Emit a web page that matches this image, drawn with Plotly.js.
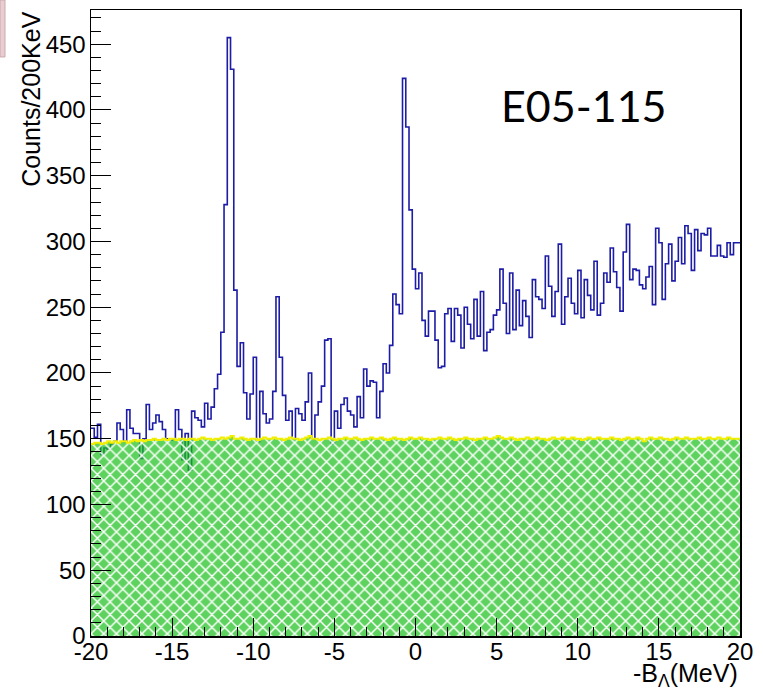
<!DOCTYPE html>
<html>
<head>
<meta charset="utf-8">
<script src="https://cdn.plot.ly/plotly-3.0.1.min.js"></script>
<style>
  html, body { margin: 0; padding: 0; background: #fff; }
  #chart { width: 763px; height: 693px; }
</style>
</head>
<body>
<div id="chart"></div>
<script>
// Binning of the missing-mass spectrum: -20 .. 20 MeV in 200 keV bins
const xMin = -20;
const xMax = 20;
const binWidth = 0.2;

// Counts per 200 keV bin (200 bins, from -20 MeV upward)
const counts = [
  158, 151, 161, 138, 143, 142, 146, 148, 162, 157,
  148, 172, 158, 154, 154, 135, 150, 176, 157, 162,
  168, 163, 157, 150, 149, 150, 172, 157, 134, 154,
  126, 171, 166, 164, 159, 177, 165, 174, 188, 199,
  231, 328, 455, 431, 263, 205, 223, 185, 165, 184,
  212, 148, 186, 169, 162, 165, 186, 258, 212, 183,
  164, 171, 150, 173, 169, 164, 178, 200, 150, 168,
  178, 190, 225, 226, 146, 171, 158, 176, 181, 171,
  168, 159, 182, 166, 203, 190, 194, 193, 166, 186,
  207, 200, 221, 260, 252, 245, 424, 387, 324, 279,
  264, 276, 240, 228, 247, 247, 225, 204, 205, 245,
  249, 224, 249, 244, 219, 250, 237, 226, 256, 228,
  262, 217, 231, 233, 244, 248, 279, 253, 230, 276,
  233, 263, 236, 255, 243, 227, 271, 258, 256, 249,
  289, 266, 243, 262, 298, 237, 258, 272, 253, 245,
  278, 242, 271, 259, 248, 285, 244, 253, 276, 269,
  295, 277, 265, 247, 292, 313, 271, 279, 278, 267,
  264, 273, 281, 252, 310, 299, 256, 283, 298, 270,
  285, 303, 283, 312, 306, 278, 309, 293, 306, 305,
  310, 289, 289, 297, 289, 288, 299, 290, 299, 299
];

// Accidental background estimate per bin
const background = [
  146, 147, 147, 146, 147, 148, 147, 148, 147, 148,
  148, 147, 148, 149, 148, 149, 148, 149, 149, 150,
  149, 149, 150, 149, 150, 150, 149, 150, 150, 149,
  150, 150, 149, 150, 151, 150, 150, 149, 150, 150,
  151, 150, 151, 152, 150, 150, 151, 150, 149, 150,
  150, 149, 150, 151, 150, 150, 151, 150, 150, 149,
  150, 151, 150, 150, 149, 150, 151, 152, 150, 150,
  149, 150, 150, 151, 150, 149, 150, 150, 151, 150,
  150, 151, 150, 149, 150, 150, 151, 150, 150, 151,
  150, 149, 150, 151, 150, 150, 149, 150, 151, 150,
  150, 151, 150, 150, 149, 150, 150, 151, 150, 150,
  151, 150, 149, 150, 150, 151, 150, 150, 149, 150,
  150, 151, 150, 150, 151, 152, 151, 150, 150, 151,
  150, 149, 150, 150, 151, 150, 150, 151, 150, 150,
  149, 150, 151, 150, 150, 151, 150, 150, 151, 150,
  150, 149, 150, 151, 150, 150, 151, 150, 150, 150,
  151, 150, 150, 149, 150, 151, 150, 150, 151, 150,
  148, 150, 151, 150, 150, 151, 150, 150, 149, 150,
  151, 150, 150, 151, 150, 150, 150, 151, 150, 150,
  151, 150, 150, 151, 150, 150, 151, 150, 150, 150
];

// Axis tick values
const xTicks = [-20, -15, -10, -5, 0, 5, 10, 15, 20];
const yTicks = [0, 50, 100, 150, 200, 250, 300, 350, 400, 450];

// Left bin edges plus the closing edge, for step drawing
function stepX(n) {
  const xs = [];
  for (let i = 0; i <= n; i++) xs.push(+(xMin + i * binWidth).toFixed(4));
  return xs;
}
function stepY(vals) {
  return vals.concat([vals[vals.length - 1]]);
}

const edges = stepX(counts.length);

const dataTrace = {
  type: 'scatter',
  mode: 'lines',
  x: edges,
  y: stepY(counts),
  line: { shape: 'hv', color: '#1c1ca6', width: 1.6 },
  hoverinfo: 'skip',
  showlegend: false
};

const bgTrace = {
  type: 'scatter',
  mode: 'lines',
  x: edges,
  y: stepY(background),
  fill: 'tozeroy',
  fillcolor: 'rgba(26,192,26,0.7)',
  fillpattern: {
    shape: 'x',
    fgcolor: '#ffffff',
    fgopacity: 1,
    bgcolor: 'rgba(26,192,26,0.7)',
    size: 9,
    solidity: 0.3
  },
  line: { shape: 'hv', color: '#f2ee00', width: 2 },
  hoverinfo: 'skip',
  showlegend: false
};

const tickFont = { family: 'Liberation Sans, Arial, sans-serif', size: 24, color: '#000' };

const layout = {
  width: 763,
  height: 693,
  margin: { l: 91, r: 23, t: 10, b: 57 },
  paper_bgcolor: '#ffffff',
  plot_bgcolor: '#ffffff',
  showlegend: false,
  xaxis: {
    range: [xMin, xMax],
    tickmode: 'array',
    tickvals: xTicks,
    ticktext: xTicks.map(String),
    ticks: 'inside',
    ticklen: 18,
    tickwidth: 1,
    tickcolor: '#000',
    ticklabelstandoff: -6,
    minor: { dtick: 1, ticks: 'inside', ticklen: 9, tickwidth: 1, tickcolor: '#000' },
    showline: true,
    linecolor: '#000',
    linewidth: 1.5,
    mirror: true,
    showgrid: false,
    zeroline: false,
    tickfont: tickFont,
    fixedrange: true
  },
  yaxis: {
    range: [0, 476],
    tickmode: 'array',
    tickvals: yTicks,
    ticktext: yTicks.map(String),
    ticks: 'inside',
    ticklen: 20,
    tickwidth: 1,
    tickcolor: '#000',
    ticklabelstandoff: -1,
    minor: { dtick: 10, ticks: 'inside', ticklen: 10, tickwidth: 1, tickcolor: '#000' },
    showline: true,
    linecolor: '#000',
    linewidth: 1.5,
    mirror: true,
    showgrid: false,
    zeroline: false,
    tickfont: tickFont,
    fixedrange: true
  },
  annotations: [
    {
      text: 'E05-115',
      xref: 'paper', yref: 'paper',
      x: 0.76, y: 0.847,
      xanchor: 'center', yanchor: 'middle',
      showarrow: false,
      font: { family: 'Lato, Noto Sans, sans-serif', size: 43, color: '#000' }
    },
    {
      text: 'Counts/200KeV',
      xref: 'paper', yref: 'paper',
      x: -0.0935, y: 1.0,
      xanchor: 'center', yanchor: 'top',
      textangle: -90,
      showarrow: false,
      font: { family: 'Liberation Sans, Arial, sans-serif', size: 25, color: '#000' }
    },
    {
      text: '-B<sub>Λ</sub>(MeV)',
      xref: 'paper', yref: 'paper',
      x: 1.0, y: -0.034,
      xanchor: 'right', yanchor: 'top',
      showarrow: false,
      font: { family: 'Liberation Sans, Arial, sans-serif', size: 25, color: '#000' }
    }
  ],
  shapes: [
    {
      type: 'rect', xref: 'paper', yref: 'paper',
      x0: -0.1402, x1: -0.1325, y0: 0.925, y1: 1.016,
      fillcolor: '#e9cdd1', line: { color: '#c9a9ad', width: 1 }
    }
  ]
};

Plotly.newPlot('chart', [dataTrace, bgTrace], layout, { staticPlot: true, displayModeBar: false });
</script>
</body>
</html>
